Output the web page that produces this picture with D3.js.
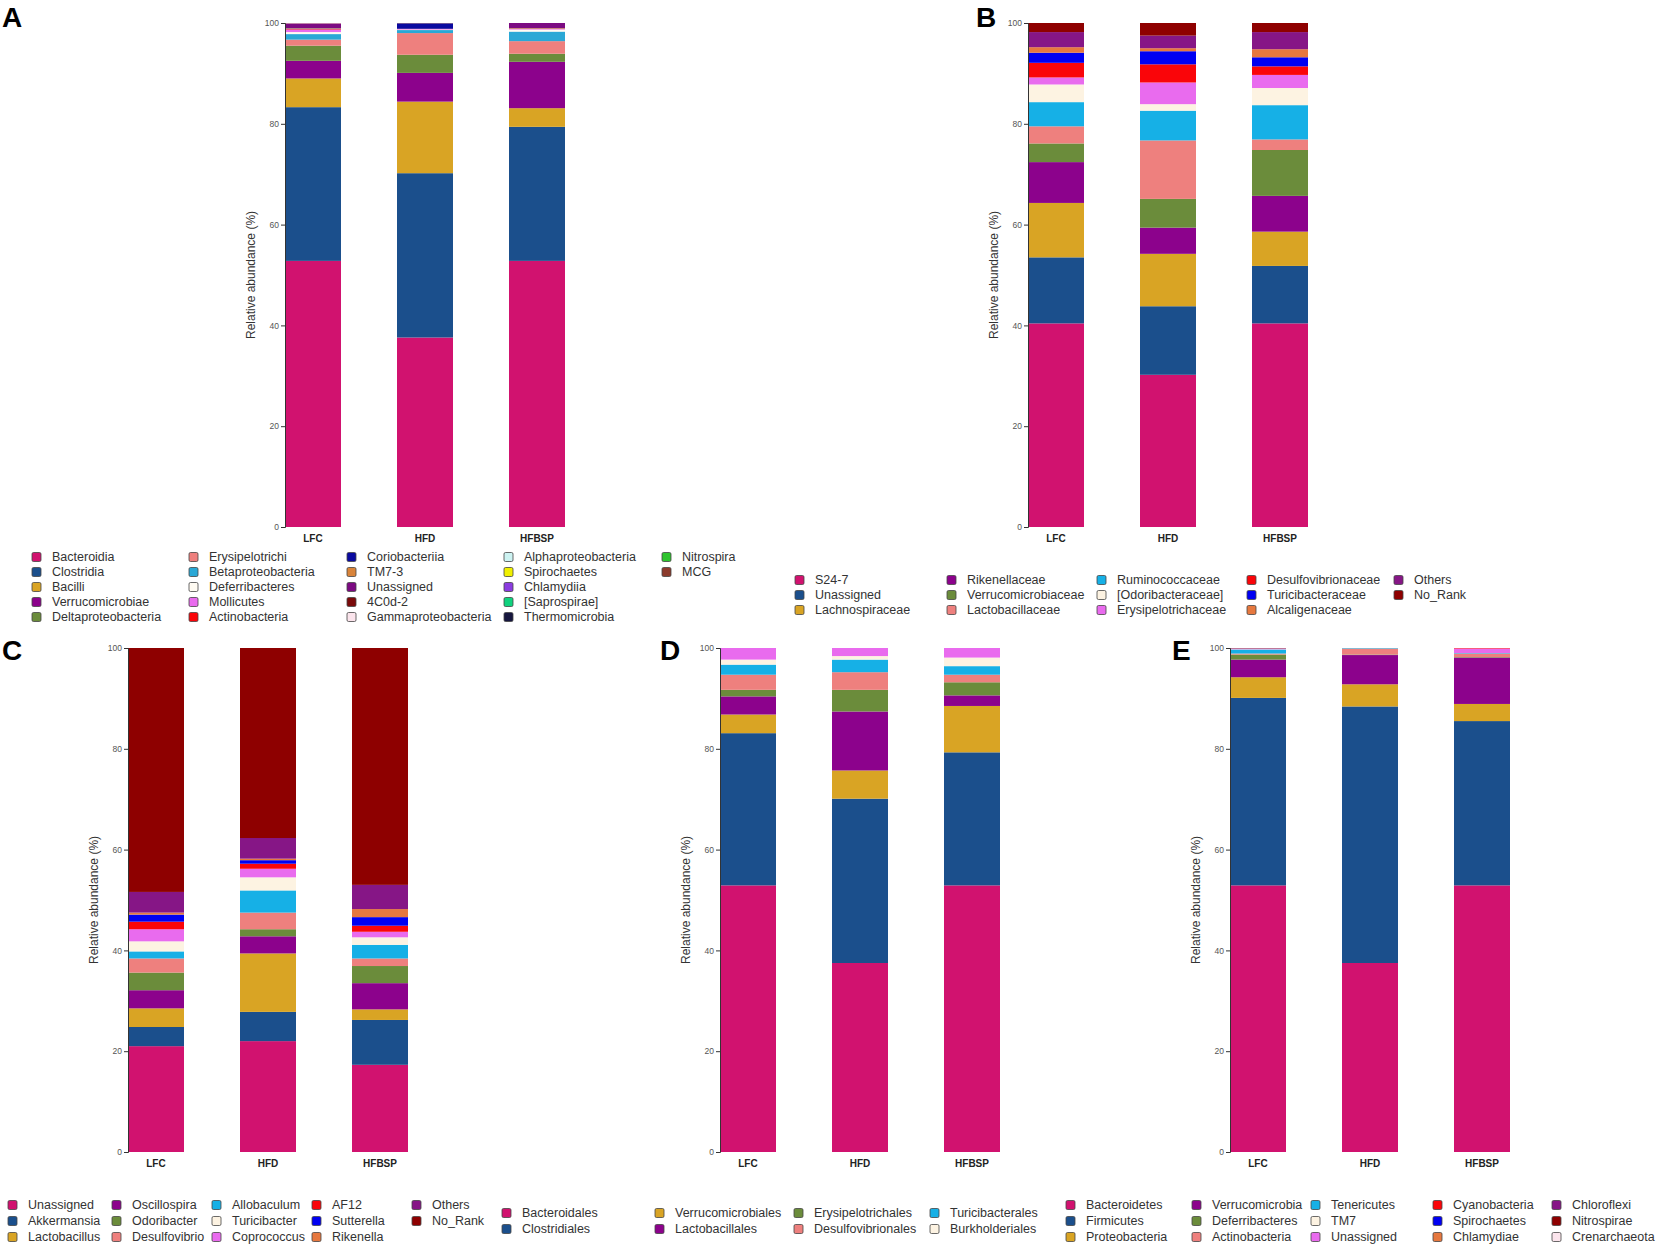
<!DOCTYPE html>
<html>
<head>
<meta charset="utf-8">
<script src="https://cdn.jsdelivr.net/npm/d3@7"></script>
<style>
  body { margin: 0; background: #fff; }
  svg { font-family: "Liberation Sans", Arial, sans-serif; }
</style>
</head>
<body>
<script>
const groups = ["LFC", "HFD", "HFBSP"];

// A - class level
const classNames = ["Bacteroidia","Clostridia","Bacilli","Verrucomicrobiae","Deltaproteobacteria",
  "Erysipelotrichi","Betaproteobacteria","Deferribacteres","Mollicutes","Actinobacteria",
  "Coriobacteriia","TM7-3","Unassigned","4C0d-2","Gammaproteobacteria",
  "Alphaproteobacteria","Spirochaetes","Chlamydiia","[Saprospirae]","Thermomicrobia",
  "Nitrospira","MCG"];
const classLFC   = [52.8,30.5,5.7,3.5,3.0,1.2,1.1,0.4,0.5,0.1,0.1,0.1,0.9,0.05,0.05,0,0,0,0,0,0,0];
const classHFD   = [37.6,32.6,14.2,5.7,3.6,4.3,0.6,0.1,0.1,0.05,1.1,0.05,0,0,0,0,0,0,0,0,0,0];
const classHFBSP = [52.8,26.6,3.7,9.2,1.6,2.5,1.9,0.4,0.1,0.05,0.05,0.1,1.0,0,0,0,0,0,0,0,0,0];

// B - family level
const familyNames = ["S24-7","Unassigned","Lachnospiraceae","Rikenellaceae","Verrucomicrobiaceae",
  "Lactobacillaceae","Ruminococcaceae","[Odoribacteraceae]","Erysipelotrichaceae",
  "Desulfovibrionaceae","Turicibacteraceae","Alcaligenaceae","Others","No_Rank"];
const familyLFC   = [40.4,13.1,10.8,8.1,3.7,3.4,4.8,3.5,1.4,2.9,2.0,1.1,3.0,1.8];
const familyHFD   = [30.2,13.6,10.4,5.2,5.7,11.6,5.9,1.3,4.3,3.6,2.6,0.6,2.5,2.5];
const familyHFBSP = [40.4,11.4,6.8,7.1,9.1,2.1,6.8,3.4,2.6,1.7,1.8,1.6,3.4,1.8];

// C - genus level
const genusNames = ["Unassigned","Akkermansia","Lactobacillus","Oscillospira","Odoribacter",
  "Desulfovibrio","Allobaculum","Turicibacter","Coprococcus","AF12","Sutterella","Rikenella",
  "Others","No_Rank"];
const genusLFC   = [21.0,3.8,3.7,3.6,3.5,2.8,1.4,2.0,2.4,1.5,1.4,0.4,4.1,48.4];
const genusHFD   = [22.0,5.8,11.6,3.4,1.4,3.3,4.4,2.6,1.7,1.0,0.7,0.3,4.1,37.7];
const genusHFBSP = [17.3,8.9,2.1,5.2,3.4,1.5,2.7,1.5,1.1,1.2,1.7,1.6,4.8,47.0];

// D - order level (top band has no legend entry in the figure)
const orderNames = ["Bacteroidales","Clostridiales","Verrucomicrobiales","Lactobacillales",
  "Erysipelotrichales","Desulfovibrionales","Turicibacterales","Burkholderiales","Others"];
const orderLegendCount = 8;
const orderLFC   = [52.9,30.2,3.7,3.6,1.3,3.0,2.0,1.0,2.3];
const orderHFD   = [37.5,32.6,5.6,11.7,4.3,3.5,2.5,0.7,1.6];
const orderHFBSP = [52.9,26.4,9.2,2.1,2.6,1.5,1.7,1.7,1.9];

// E - phylum level
const phylumNames = ["Bacteroidetes","Firmicutes","Proteobacteria","Verrucomicrobia","Deferribacteres",
  "Actinobacteria","Tenericutes","TM7","Unassigned","Cyanobacteria","Spirochaetes","Chlamydiae",
  "Chloroflexi","Nitrospirae","Crenarchaeota"];
const phylumLFC   = [52.9,37.2,4.1,3.5,1.0,0.2,0.8,0.05,0.05,0.05,0.05,0.05,0.02,0.02,0.01];
const phylumHFD   = [37.5,50.9,4.4,5.8,0.1,1.2,0.1,0,0,0,0,0,0,0,0];
const phylumHFBSP = [52.9,32.6,3.4,9.2,0.1,0.7,0.1,0,0.9,0.1,0,0,0,0,0];

const yTicks = [0, 20, 40, 60, 80, 100];

// colours
const C = {
  pink: "#D1126F", blue: "#1B4F8C", gold: "#D9A424", purple: "#8C028C", green: "#6B8C3B",
  salmon: "#EE807E", cyan: "#16B0E6", cream: "#FDF3E2", violet: "#E96BEE", red: "#FA0509",
  bblue: "#0000F2", orange: "#E6783F", purple2: "#861686", darkred: "#8E0000"
};
const classColors = [C.pink, C.blue, C.gold, C.purple, C.green, C.salmon, "#2AA8D6", "#FFFBF2",
  C.violet, C.red, "#0A0AA0", "#D9843A", "#7C0A82", "#7A0A0A", "#FBE4EC", "#CDF3F2", "#F0F000",
  "#8B3CE0", "#10D27E", "#16163E", "#2EC42E", "#8C3B2C"];
const familyColors = [C.pink, C.blue, C.gold, C.purple, C.green, C.salmon, C.cyan, C.cream,
  C.violet, C.red, C.bblue, C.orange, C.purple2, C.darkred];
const genusColors = familyColors;
const orderColors = [C.pink, C.blue, C.gold, C.purple, C.green, C.salmon, C.cyan, C.cream, C.violet];
const phylumColors = [C.pink, C.blue, C.gold, C.purple, C.green, C.salmon, C.cyan, C.cream,
  C.violet, C.red, C.bblue, C.orange, C.purple2, C.darkred, "#FBE4EC"];

const svg = d3.select("body").append("svg")
  .attr("width", 1665).attr("height", 1250);

function drawPanel(p) {
  const y = d3.scaleLinear().domain([0, 100]).range([p.bottom, p.top]);
  const x = d3.scaleBand().domain(groups)
    .range([p.x0, p.x0 + 280]).paddingInner(0.5).paddingOuter(0);

  const rows = groups.map((g, i) => {
    const r = { group: g };
    p.names.forEach((n, j) => { r[n] = p.values[i][j]; });
    return r;
  });
  const stacked = d3.stack().keys(p.names)(rows);
  const color = d3.scaleOrdinal().domain(p.names).range(p.colors);

  const g = svg.append("g");
  g.selectAll("g.layer")
    .data(stacked)
    .join("g")
    .attr("fill", d => color(d.key))
    .selectAll("rect")
    .data(d => d)
    .join("rect")
    .attr("x", d => x(d.data.group))
    .attr("width", x.bandwidth())
    .attr("y", d => y(d[1]))
    .attr("height", d => Math.max(0, y(d[0]) - y(d[1])));

  const axis = g.append("g")
    .attr("transform", `translate(${p.x0},0)`)
    .call(d3.axisLeft(y).tickValues(yTicks).tickSize(4).tickPadding(2));
  axis.select(".domain").attr("stroke", "#333");
  axis.selectAll(".tick line").attr("stroke", "#333");
  axis.selectAll("text").attr("font-size", 8.5).attr("fill", "#555")
    .attr("font-family", "Liberation Sans, Arial, sans-serif");

  g.append("text")
    .attr("transform", `translate(${p.x0 - 30},${(p.top + p.bottom) / 2}) rotate(-90)`)
    .attr("text-anchor", "middle")
    .attr("font-size", 12)
    .attr("fill", "#333")
    .text("Relative abundance (%)");

  g.selectAll("text.grp")
    .data(groups)
    .join("text")
    .attr("x", d => x(d) + x.bandwidth() / 2)
    .attr("y", p.bottom + 15)
    .attr("text-anchor", "middle")
    .attr("font-size", 10)
    .attr("font-weight", "bold")
    .attr("fill", "#222")
    .text(d => d);

  svg.append("text")
    .attr("x", p.letter[0]).attr("y", p.letter[1])
    .attr("font-size", 28).attr("font-weight", "bold")
    .attr("font-family", "Liberation Sans, Arial, sans-serif")
    .text(p.label);

  // legend, filled column by column
  const n = p.legendCount || p.names.length;
  const items = p.names.slice(0, n).map((name, i) => ({
    name, col: Math.floor(i / p.legRows.length), row: i % p.legRows.length
  }));
  const leg = svg.append("g").selectAll("g")
    .data(items)
    .join("g")
    .attr("transform", d => `translate(${p.legCols[d.col]},${p.legRows[d.row]})`);
  leg.append("rect")
    .attr("x", 0).attr("y", -4.5).attr("width", 9).attr("height", 9)
    .attr("rx", 1.5)
    .attr("fill", d => color(d.name))
    .attr("stroke", "#444").attr("stroke-width", 0.8);
  leg.append("text")
    .attr("x", 20).attr("y", 0).attr("dy", "0.35em")
    .attr("font-size", 12.5).attr("fill", "#333")
    .text(d => d.name);
}

drawPanel({
  label: "A", letter: [2, 27], x0: 285, top: 23, bottom: 527,
  names: classNames, colors: classColors, values: [classLFC, classHFD, classHFBSP],
  legCols: [32, 189, 347, 504, 662], legRows: [557, 572, 587, 602, 617]
});
drawPanel({
  label: "B", letter: [976, 27], x0: 1028, top: 23, bottom: 527,
  names: familyNames, colors: familyColors, values: [familyLFC, familyHFD, familyHFBSP],
  legCols: [795, 947, 1097, 1247, 1394], legRows: [580, 595, 610]
});
drawPanel({
  label: "C", letter: [2, 660], x0: 128, top: 648, bottom: 1152,
  names: genusNames, colors: genusColors, values: [genusLFC, genusHFD, genusHFBSP],
  legCols: [8, 112, 212, 312, 412], legRows: [1205, 1221, 1237]
});
drawPanel({
  label: "D", letter: [660, 660], x0: 720, top: 648, bottom: 1152,
  names: orderNames, colors: orderColors, values: [orderLFC, orderHFD, orderHFBSP],
  legendCount: orderLegendCount,
  legCols: [502, 655, 794, 930], legRows: [1213, 1229]
});
drawPanel({
  label: "E", letter: [1172, 660], x0: 1230, top: 648, bottom: 1152,
  names: phylumNames, colors: phylumColors, values: [phylumLFC, phylumHFD, phylumHFBSP],
  legCols: [1066, 1192, 1311, 1433, 1552], legRows: [1205, 1221, 1237]
});
</script>
</body>
</html>
